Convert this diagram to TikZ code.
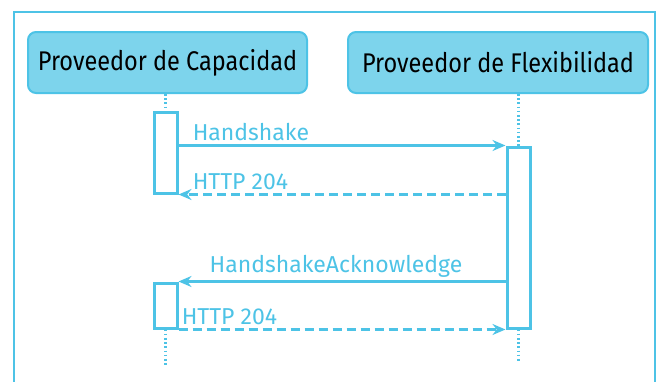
\documentclass[tikz,border=0pt]{standalone}
\usepackage{fontspec}
\setmainfont{Fira Sans}
\newfontfamily\estrecha[FakeStretch=0.87]{Fira Sans}
\usepackage{tikz}
\usetikzlibrary{arrows.meta}
\usetikzlibrary{positioning}
\definecolor{cielo}{RGB}{77,195,230}
\definecolor{cielofondo}{RGB}{125,212,236}

\begin{document}
\begin{tikzpicture}[x=1pt,y=-1pt,
  actor/.style={draw=cielo, fill=cielofondo, line width=2pt, rounded corners=8pt,
    minimum height=61pt, inner sep=0pt, font=\estrecha\fontsize{27}{29}\selectfont},
  activa/.style={draw=cielo, fill=white, line width=3pt, minimum width=23pt, inner sep=0pt},
  vida/.style={cielo, line width=2.2pt, dash pattern=on 1.6pt off 2.6pt},
  msg/.style={cielo, line width=2.6pt, -{Stealth[length=13pt,width=11pt]}},
  resp/.style={msg, dash pattern=on 9pt off 5pt},
  etiq/.style={cielo, inner sep=0pt, font=\fontsize{23}{25}\selectfont}]
\useasboundingbox (0,0) rectangle (659,381);
\draw [cielo, line width=1.8pt] (14,392) -- (14,12) -- (655,12) -- (655,392);

\node[actor, minimum width=279pt] (cap) at (167.5,62.5) {Proveedor de Capacidad};
\node[actor, minimum width=300pt] (flex) at (498,62.5) {Proveedor de Flexibilidad};

\node[activa, minimum height=81pt] (capA) at (165.5,152.5) {};
\node[activa, minimum height=181pt] (flexA) at (518.5,237.5) {};
\node[activa, minimum height=45pt] (capB) at (165.5,305.5) {};
\coordinate (capFin) at (165.5,366);
\coordinate (flexFin) at (518.5,363);

% lineas de vida
\draw [vida] (cap.south -| capA.north) -- (capA.north);
\draw [vida] (flex.south -| flexA.north) -- (flexA.north);
\draw [vida] (capB.south) -- (capFin);
\draw [vida] (flexA.south) -- (flexFin);

% mensajes
\draw [msg] (capA.east |- flexA.north west) -- (flexA.north west)
  node[etiq, pos=0, above right, xshift=13pt, yshift=3pt] {Handshake};
\draw [resp] (flexA.west |- capA.south east) -- (capA.south east)
  node[etiq, pos=1, above right, xshift=13pt, yshift=3pt] {HTTP 204};
\draw [msg] (flexA.west |- capB.north east) -- (capB.north east)
  node[etiq, midway, above, xshift=-6pt, yshift=3pt] {HandshakeAcknowledge};
\draw [resp] (capB.south east) -- (flexA.south west)
  node[etiq, pos=0, above right, xshift=2pt, yshift=3pt] {HTTP 204};

\end{tikzpicture}
\end{document}
